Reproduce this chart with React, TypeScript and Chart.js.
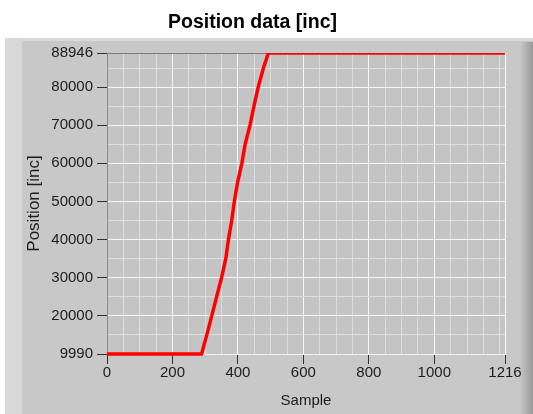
import React, { useEffect, useRef } from "react";
import { Chart, registerables } from "chart.js";

Chart.register(...registerables);

// ---- data ----
const sampleIndex = [0, 289, 305, 320, 335, 350, 363, 371, 381, 389, 399, 412, 422, 437, 449, 462, 478, 493, 1216];
const positionInc = [9990, 9990, 15000, 20000, 25000, 30000, 35000, 40000, 45000, 50000, 55000, 60000, 65000, 70000, 75000, 80000, 85000, 88946, 88946];

const xMajorTicks = [0, 200, 400, 600, 800, 1000, 1216];
const xMinorTicks = [50, 100, 150, 250, 300, 350, 450, 500, 550, 650, 700, 750, 850, 900, 950, 1050, 1100, 1150, 1200];
const yMajorTicks = [9990, 20000, 30000, 40000, 50000, 60000, 70000, 80000, 88946];
const yMinorTicks = [15000, 25000, 35000, 45000, 55000, 65000, 75000, 85000];

const chartTitle = "Position data [inc]";
const xTitle = "Sample";
const yTitle = "Position [inc]";

const FONT = "'Liberation Sans', Arial, sans-serif";
const TEXT = "#1c1c1c";

const panelPlugin = {
  id: "panelBg",
  beforeDraw(chart: any) {
    const { ctx, width, height, chartArea } = chart;
    ctx.save();
    ctx.fillStyle = "#ffffff";
    ctx.fillRect(0, 0, width, height);
    // panel
    ctx.fillStyle = "#c8c8c8";
    ctx.fillRect(5, 38, width - 5, height - 38);
    // top highlight band
    ctx.fillStyle = "#dadada";
    ctx.fillRect(5, 38, width - 5, 3);
    // left lighter stripe
    ctx.fillStyle = "#d8d8d8";
    ctx.fillRect(5, 38, 17, height - 38);
    // right darker edge
    const g = ctx.createLinearGradient(520, 0, width, 0);
    g.addColorStop(0, "#c8c8c8");
    g.addColorStop(0.4, "#b4b4b4");
    g.addColorStop(1, "#9a9a9a");
    ctx.fillStyle = g;
    ctx.fillRect(520, 42, width - 520, height - 42);
    // plot area
    ctx.fillStyle = "#c4c4c4";
    ctx.fillRect(chartArea.left, chartArea.top, chartArea.right - chartArea.left, chartArea.bottom - chartArea.top);
    ctx.restore();
  },
};

export default function App() {
  const ref = useRef<HTMLCanvasElement | null>(null);

  useEffect(() => {
    document.body.style.margin = "0";
    if (!ref.current) return;
    const points = sampleIndex.map((x, i) => ({ x, y: positionInc[i] }));
    const xAll = [...xMajorTicks, ...xMinorTicks].sort((a, b) => a - b);
    const yAll = [...yMajorTicks, ...yMinorTicks].sort((a, b) => a - b);

    const chart = new Chart(ref.current, {
      type: "line",
      data: {
        datasets: [
          {
            data: points,
            borderColor: "#ff0000",
            borderWidth: 3.5,
            pointRadius: 0,
            tension: 0,
            clip: { left: false, top: 0, right: false, bottom: false } as any,
          },
        ],
      },
      options: {
        animation: false,
        responsive: false,
        maintainAspectRatio: false,
        layout: { padding: { left: 0, right: 28, top: 0, bottom: 0 } },
        plugins: {
          legend: { display: false },
          tooltip: { enabled: false },
          title: {
            display: true,
            text: chartTitle,
            color: "#000000",
            font: { family: FONT, size: 19.5, weight: "bold" },
            padding: { top: 11, bottom: 18.6 },
          },
        },
        scales: {
          x: {
            type: "linear",
            min: 0,
            max: 1216,
            afterBuildTicks: (s: any) => {
              s.ticks = xAll.map((v) => ({ value: v }));
            },
            afterFit: (s: any) => {
              s.height = 60;
            },
            ticks: {
              autoSkip: false,
              maxRotation: 0,
              padding: 0,
              color: TEXT,
              font: { family: FONT, size: 15 },
              callback: (v: any) => (xMajorTicks.includes(Number(v)) ? String(v) : ""),
            },
            grid: {
              lineWidth: 1,
              tickLength: 10,
              color: (c: any) => {
                const v = c.tick ? c.tick.value : -1;
                if (v === 0) return "#8c8c8c";
                return xMajorTicks.includes(v) ? "#f6f6f6" : "#dedede";
              },
              tickColor: (c: any) => {
                const v = c.tick ? c.tick.value : -1;
                return xMajorTicks.includes(v) ? "#303030" : "rgba(0,0,0,0)";
              },
            },
            border: { display: true, color: "#f2f2f2", width: 1 },
            title: {
              display: true,
              text: xTitle,
              color: TEXT,
              font: { family: FONT, size: 15 },
              padding: { top: 0, bottom: 4 },
            },
          },
          y: {
            type: "linear",
            min: 9990,
            max: 88946,
            afterBuildTicks: (s: any) => {
              s.ticks = yAll.map((v) => ({ value: v }));
            },
            afterFit: (s: any) => {
              s.width = 107;
            },
            ticks: {
              autoSkip: false,
              padding: 4,
              color: TEXT,
              font: { family: FONT, size: 15 },
              callback: (v: any) => (yMajorTicks.includes(Number(v)) ? String(v) : ""),
            },
            grid: {
              lineWidth: 1,
              tickLength: 10,
              color: (c: any) => {
                const v = c.tick ? c.tick.value : -1;
                if (v === 88946) return "#7c7c7c";
                return yMajorTicks.includes(v) ? "#f6f6f6" : "#dedede";
              },
              tickColor: (c: any) => {
                const v = c.tick ? c.tick.value : -1;
                return yMajorTicks.includes(v) ? "#303030" : "rgba(0,0,0,0)";
              },
            },
            border: { display: true, color: "#8c8c8c", width: 1 },
            title: {
              display: true,
              text: yTitle,
              color: TEXT,
              font: { family: FONT, size: 17 },
              padding: { top: 24, bottom: 0 },
            },
          },
        },
      },
      plugins: [panelPlugin],
    });
    return () => chart.destroy();
  }, []);

  return (
    <div style={{ position: "relative", width: 533, height: 414 }}>
      <canvas ref={ref} width={533} height={414} style={{ width: 533, height: 414, display: "block" }} />
    </div>
  );
}
